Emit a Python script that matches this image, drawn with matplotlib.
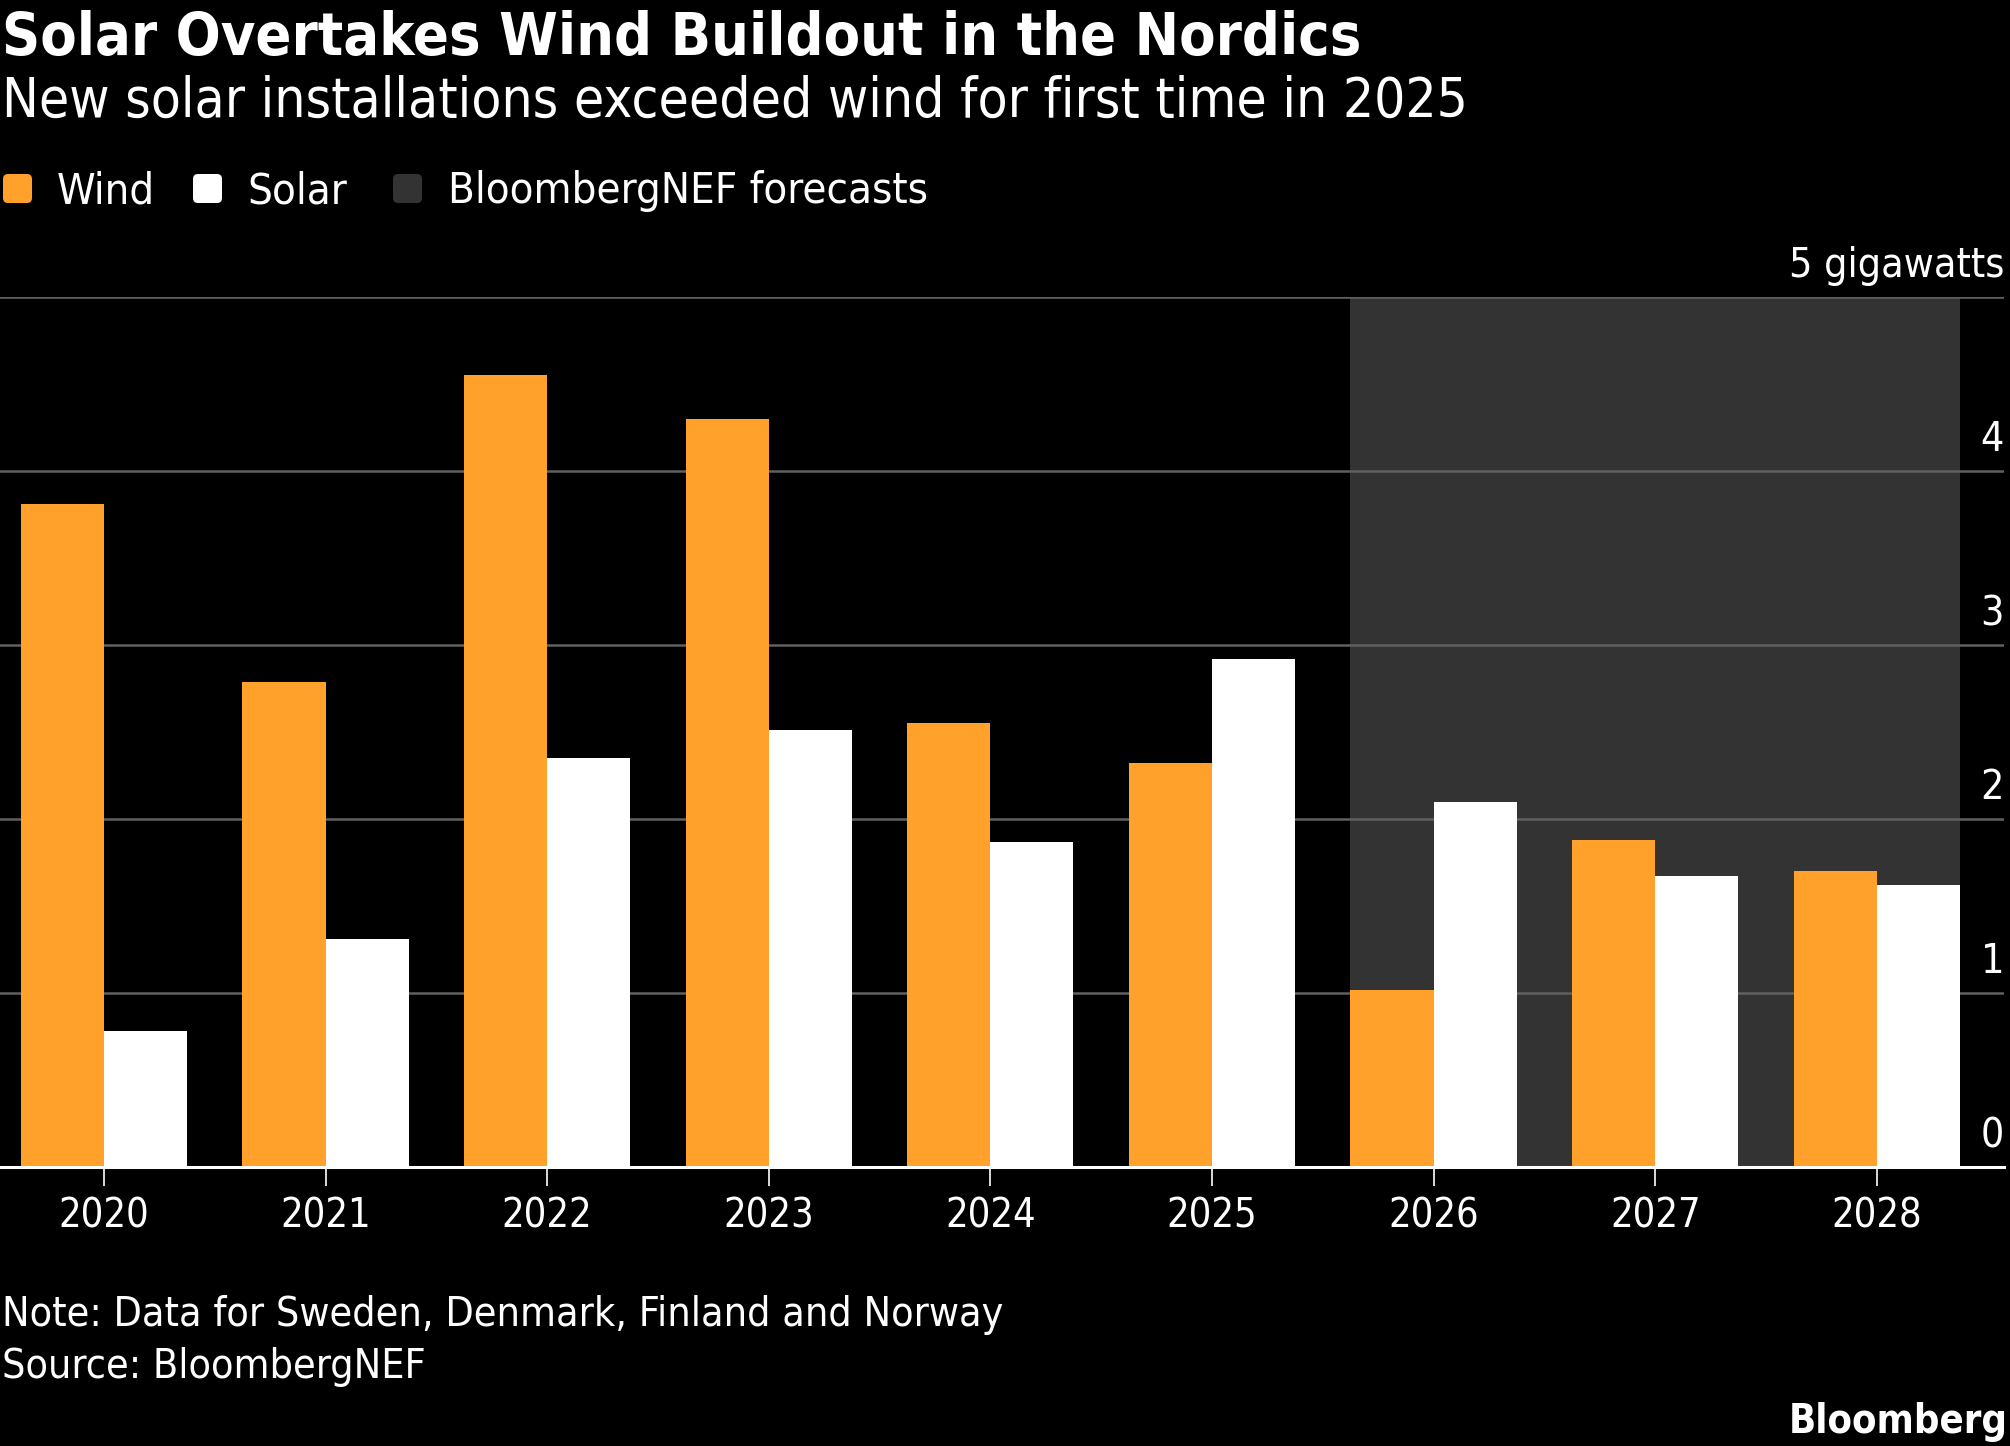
import numpy as np
import matplotlib
matplotlib.use("Agg")
from matplotlib import pyplot as plt
from matplotlib.patches import FancyBboxPatch
import matplotlib.transforms as mtransforms

# Nordic new capacity, gigawatts
years = ["2020", "2021", "2022", "2023", "2024", "2025", "2026", "2027", "2028"]
wind = [3.81, 2.79, 4.55, 4.30, 2.55, 2.32, 1.02, 1.88, 1.70]
solar = [0.78, 1.31, 2.35, 2.51, 1.87, 2.92, 2.10, 1.67, 1.62]
forecast_years = ["2026", "2027", "2028"]

y_ticks = [0, 1, 2, 3, 4, 5]
y_tick_labels = ["0", "1", "2", "3", "4", "5 gigawatts"]

legend_labels = ["Wind", "Solar", "BloombergNEF forecasts"]

title = "Solar Overtakes Wind Buildout in the Nordics"
subtitle = "New solar installations exceeded wind for first time in 2025"
note = "Note: Data for Sweden, Denmark, Finland and Norway"
source = "Source: BloombergNEF"

orange = "#FFA12B"
white = "#FFFFFF"
shade = "#333333"
grid_grey = "#606060"

plt.rcParams["font.family"] = ["DejaVu Sans"]
plt.rcParams["font.stretch"] = "condensed"

# figure is laid out in pixels, 100 dpi
W, H = 2010, 1446
fig = plt.figure(figsize=(W / 100, H / 100), dpi=100, facecolor="black")

def fx(x):
    return x / W

def fy(y):
    return 1 - y / H

# plot area: baseline at y=1167 px, top gridline at y=297 px
ax = fig.add_axes([0, fy(1167), fx(2004), (1167 - 297) / H])
ax.set_facecolor("black")

x = np.arange(len(years))
bw = 0.375

ax.axvspan(years.index(forecast_years[0]) - bw, years.index(forecast_years[-1]) + bw,
           color=shade, zorder=0, lw=0)

for v in y_ticks[1:]:
    ax.axhline(v, color=grid_grey, lw=1.8, zorder=1)

ax.bar(x - bw / 2, wind, width=bw, color=orange, zorder=2, lw=0)
ax.bar(x + bw / 2, solar, width=bw, color=white, zorder=2, lw=0)

ax.set_xlim(-0.469, 8.574)
ax.set_ylim(0, 5)

for side in ["top", "left", "right"]:
    ax.spines[side].set_visible(False)
ax.spines["bottom"].set_color("white")
ax.spines["bottom"].set_linewidth(2.2)
ax.spines["bottom"].set_zorder(3)

ax.set_xticks(x)
ax.set_xticklabels(years)
ax.tick_params(axis="x", colors="white", length=14, width=1.2, pad=7, labelsize=28.5)
ax.set_yticks([])

# y labels sit just above their gridlines, right aligned
lab_trans = mtransforms.offset_copy(ax.get_yaxis_transform(), fig=fig, x=0, y=20, units="dots")
for v, lab in zip(y_ticks, y_tick_labels):
    ax.text(1.0, v, lab, transform=lab_trans, ha="right", va="baseline",
            color="white", fontsize=29.4)

# titles
fig.text(fx(2), fy(55), title, color="white", fontsize=42.6, fontweight="bold", va="baseline")
fig.text(fx(2), fy(117), subtitle, color="white", fontsize=39.4, va="baseline")

# legend made of rounded squares in pixel space
legend_boxes = [(3, orange), (193, white), (393, shade)]
legend_text_x = [57, 247, 448]
for (bx, col), tx, lab in zip(legend_boxes, legend_text_x, legend_labels):
    p = FancyBboxPatch((bx / 100, (H - 203) / 100), 0.29, 0.29,
                       boxstyle="round,pad=0,rounding_size=0.05",
                       transform=fig.dpi_scale_trans, facecolor=col, edgecolor="none")
    fig.patches.append(p)
    fig.text(fx(tx), fy(203), lab, color="white", fontsize=31.3, va="baseline")

fig.text(fx(2), fy(1326), note, color="white", fontsize=29.5, va="baseline")
fig.text(fx(2), fy(1378), source, color="white", fontsize=29.5, va="baseline")
fig.text(fx(2008), fy(1433), "Bloomberg", color="white", fontsize=28.6,
         fontweight="bold", ha="right", va="baseline")

plt.savefig("out.png", dpi=100, facecolor="black")
